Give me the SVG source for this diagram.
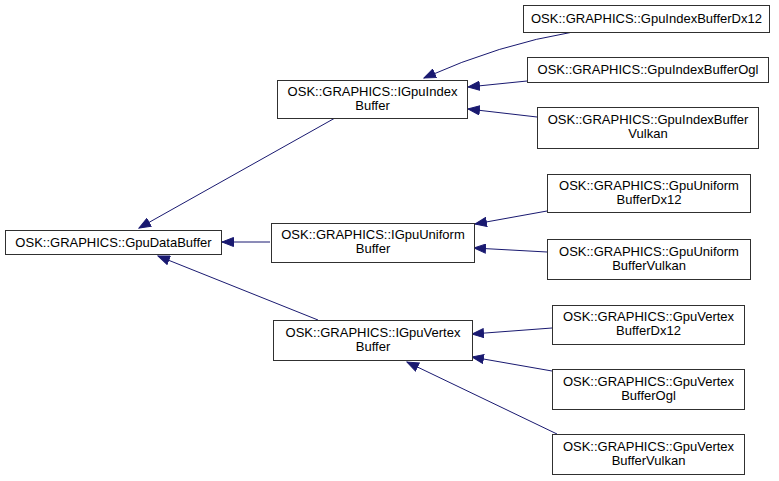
<svg xmlns="http://www.w3.org/2000/svg" width="779" height="481" viewBox="0 0 779 481">
<style>
  .node rect { fill: #ffffff; stroke: #303030; stroke-width: 1; }
  .node text { font-family: "Liberation Sans", Arial, sans-serif; font-size: 13px; fill: #000000; text-anchor: middle; }
  .edges path { fill: none; stroke: #191970; stroke-width: 1; marker-end: url(#arrow); }
</style>
<defs>
  <marker id="arrow" markerUnits="userSpaceOnUse" markerWidth="13" markerHeight="10" refX="12" refY="5" orient="auto" viewBox="0 0 13 10">
    <path d="M0.5,0.5 L12,5 L0.5,9.5 z" fill="#191970" stroke="#191970" stroke-width="1"/>
  </marker>
</defs>
<rect x="0" y="0" width="779" height="481" fill="#ffffff"/>
<g class="edges" id="edges">
  <path d="M335,118 L139,228"/>
  <path d="M270,242 L222,242"/>
  <path d="M318,320 L158,256"/>
  <path d="M573,32 Q500,44 424,78"/>
  <path d="M527,81 L468,87"/>
  <path d="M537,117 L468,109"/>
  <path d="M547,211 L475,224"/>
  <path d="M547,252 L474,248"/>
  <path d="M552,328 L472,334"/>
  <path d="M552,371 L472,357"/>
  <path d="M557,434 L407,362"/>
</g>
<g class="node" id="GpuDataBuffer">
  <rect x="5.5" y="230.5" width="216" height="24"/>
  <text x="113.5" y="247">OSK::GRAPHICS::GpuDataBuffer</text>
</g>
<g class="node" id="IGpuIndexBuffer">
  <rect x="277.5" y="80.5" width="190" height="38"/>
  <text x="372.5" y="96">OSK::GRAPHICS::IGpuIndex</text>
  <text x="372.5" y="110">Buffer</text>
</g>
<g class="node" id="IGpuUniformBuffer">
  <rect x="271.5" y="223.5" width="203" height="39"/>
  <text x="373" y="239">OSK::GRAPHICS::IGpuUniform</text>
  <text x="373" y="253">Buffer</text>
</g>
<g class="node" id="IGpuVertexBuffer">
  <rect x="273.5" y="320.5" width="199" height="40"/>
  <text x="373" y="337">OSK::GRAPHICS::IGpuVertex</text>
  <text x="373" y="351">Buffer</text>
</g>
<g class="node" id="GpuIndexBufferDx12">
  <rect x="523.5" y="5.5" width="246" height="27"/>
  <text x="646.5" y="23">OSK::GRAPHICS::GpuIndexBufferDx12</text>
</g>
<g class="node" id="GpuIndexBufferOgl">
  <rect x="527.5" y="57.5" width="241" height="25"/>
  <text x="648" y="74">OSK::GRAPHICS::GpuIndexBufferOgl</text>
</g>
<g class="node" id="GpuIndexBufferVulkan">
  <rect x="537.5" y="107.5" width="221" height="41"/>
  <text x="648" y="124">OSK::GRAPHICS::GpuIndexBuffer</text>
  <text x="648" y="138">Vulkan</text>
</g>
<g class="node" id="GpuUniformBufferDx12">
  <rect x="547.5" y="174.5" width="203" height="38"/>
  <text x="649" y="190">OSK::GRAPHICS::GpuUniform</text>
  <text x="649" y="204">BufferDx12</text>
</g>
<g class="node" id="GpuUniformBufferVulkan">
  <rect x="547.5" y="239.5" width="203" height="40"/>
  <text x="649" y="256">OSK::GRAPHICS::GpuUniform</text>
  <text x="649" y="270">BufferVulkan</text>
</g>
<g class="node" id="GpuVertexBufferDx12">
  <rect x="552.5" y="305.5" width="192" height="39"/>
  <text x="648.5" y="321">OSK::GRAPHICS::GpuVertex</text>
  <text x="648.5" y="335">BufferDx12</text>
</g>
<g class="node" id="GpuVertexBufferOgl">
  <rect x="552.5" y="369.5" width="192" height="40"/>
  <text x="648.5" y="386">OSK::GRAPHICS::GpuVertex</text>
  <text x="648.5" y="400">BufferOgl</text>
</g>
<g class="node" id="GpuVertexBufferVulkan">
  <rect x="552.5" y="434.5" width="192" height="40"/>
  <text x="648.5" y="451">OSK::GRAPHICS::GpuVertex</text>
  <text x="648.5" y="465">BufferVulkan</text>
</g>
</svg>
